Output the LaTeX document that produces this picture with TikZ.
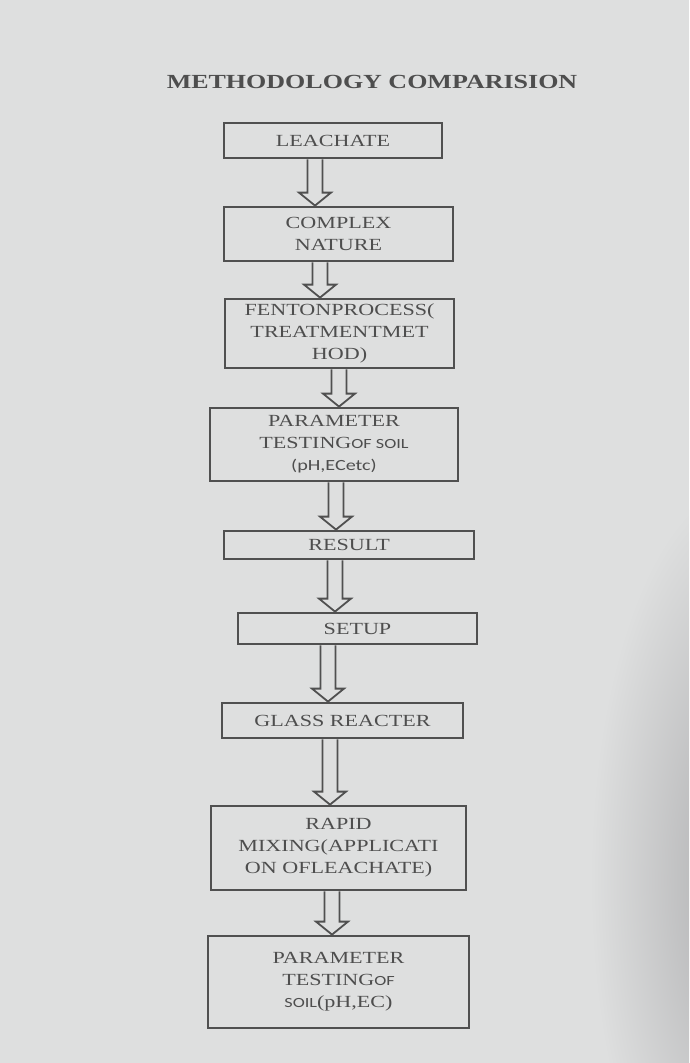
\documentclass[tikz,border=0pt]{standalone}
\usepackage{fontspec}
\setmainfont{Liberation Serif}[FakeStretch=1.3]
\newfontfamily\sansf{Carlito}[FakeStretch=1.3]
\usetikzlibrary{calc}
\definecolor{paper}{RGB}{222,223,223}
\definecolor{paperdark}{RGB}{170,170,172}
\definecolor{ink}{RGB}{78,78,78}
\definecolor{edge}{RGB}{80,80,80}
\tikzset{
  box/.style={draw=edge, line width=2.8pt, text=ink, align=center, inner sep=0pt,
    font=\fontsize{17}{22}\selectfont},
  arrowline/.style={draw=edge, line width=1.8pt, line join=miter},
  titletext/.style={text=ink, inner sep=0pt, font=\bfseries\fontsize{20}{24}\selectfont},
}
\newcommand\harrow[3]{%
  \draw[arrowline] let \p1=(#1.south), \p2=(#2.north) in
    ({#3pt-7.5pt},\y1) -- ({#3pt-7.5pt},{\y2+13pt}) -- ({#3pt-16pt},{\y2+13pt})
    -- ({#3pt},\y2) -- ({#3pt+16pt},{\y2+13pt}) -- ({#3pt+7.5pt},{\y2+13pt})
    -- ({#3pt+7.5pt},\y1);}
\newcommand\sm[1]{{\sansf\fontsize{14}{22}\selectfont #1}}
\newcommand\sn[1]{{\sansf\fontsize{15.5}{22}\selectfont #1}}
\begin{document}
\begin{tikzpicture}[x=1pt,y=-1pt]
\fill[paper] (0,0) rectangle (689,1063);
\useasboundingbox (0,0) rectangle (689,1063);
\begin{scope}
  \clip (0,0) rectangle (689,1063);
  \shade[inner color=paperdark, outer color=paper] (750,880) ellipse (160 and 400);
\end{scope}

\node[titletext] (title) at (372,82) {METHODOLOGY COMPARISION};

\node[box, minimum width=218, minimum height=35] (n1) at (333,140.5) {LEACHATE};
\node[box, minimum width=229, minimum height=54] (n2) at (338.5,234) {COMPLEX\\NATURE};
\node[box, minimum width=229, minimum height=69] (n3) at (339.5,333.5) {FENTONPROCESS(\\TREATMENTMET\\HOD)};
\node[box, minimum width=248, minimum height=73] (n4) at (334,444.5) {PARAMETER\\TESTING\sm{OF SOIL}\\\sn{(pH,ECetc)}};
\node[box, minimum width=250, minimum height=28] (n5) at (349,545) {RESULT};
\node[box, minimum width=239, minimum height=31] (n6) at (357.5,628.5) {SETUP};
\node[box, minimum width=241, minimum height=35] (n7) at (342.5,720.5) {GLASS REACTER};
\node[box, minimum width=255, minimum height=84] (n8) at (338.5,848) {RAPID\\MIXING(APPLICATI\\ON OFLEACHATE)};
\node[box, minimum width=261, minimum height=92] (n9) at (338.5,982) {PARAMETER\\TESTING\sm{OF}\\\sm{SOIL}(pH,EC)};

\harrow{n1}{n2}{315}
\harrow{n2}{n3}{320}
\harrow{n3}{n4}{339}
\harrow{n4}{n5}{336}
\harrow{n5}{n6}{335}
\harrow{n6}{n7}{328}
\harrow{n7}{n8}{330}
\harrow{n8}{n9}{332}
\end{tikzpicture}
\end{document}
